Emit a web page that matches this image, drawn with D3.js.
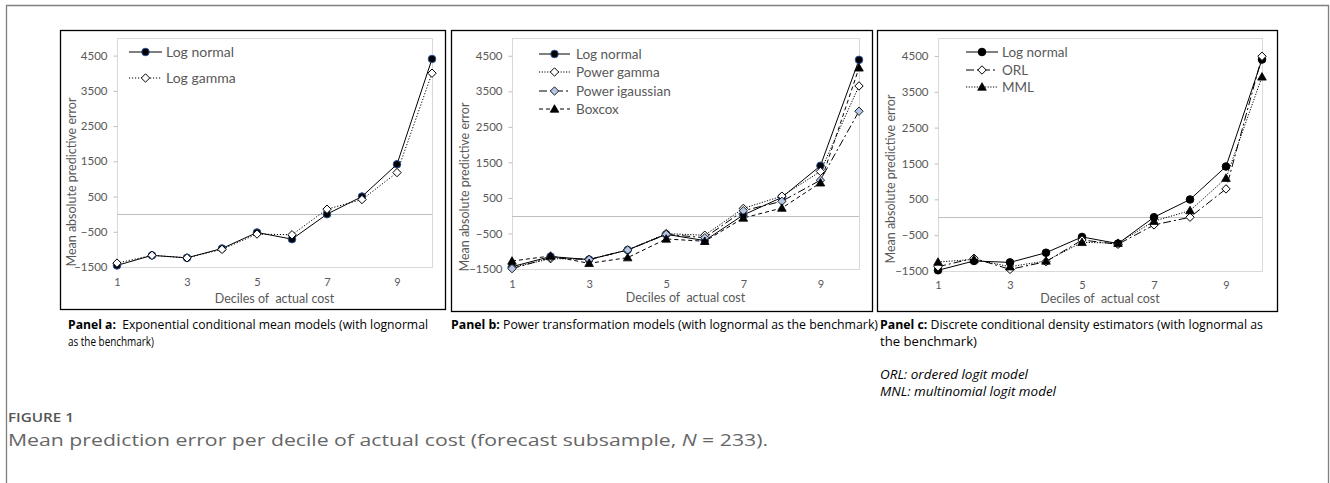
<!DOCTYPE html>
<html>
<head>
<meta charset="utf-8">
<script src="https://cdn.jsdelivr.net/npm/d3@7"></script>
<style>
  body { margin: 0; background: #fff; }
  svg text { font-family: Lato, "Open Sans", sans-serif; }
</style>
</head>
<body>
<script>

// deciles of actual cost
var deciles = [1, 2, 3, 4, 5, 6, 7, 8, 9, 10];
var xTickLabels = [1, 3, 5, 7, 9];
var yTicks = [-1500, -500, 500, 1500, 2500, 3500, 4500];

// panel a
var aLogNormal = [-1455, -1170, -1240, -975, -520, -710, 0, 500, 1415, 4405];
var aLogGamma  = [-1390, -1170, -1240, -1000, -565, -585, 140, 415, 1180, 4000];

// panel b
var bLogNormal     = [-1435, -1150, -1235, -965, -525, -700, 20, 515, 1405, 4385];
var bPowerGamma    = [-1460, -1210, -1225, -965, -505, -550, 205, 550, 1245, 3650];
var bPowerIgauss   = [-1490, -1180, -1235, -965, -525, -620, 140, 405, 1000, 2940];
var bBoxcox        = [-1275, -1135, -1340, -1180, -655, -720, -65, 215, 925, 4160];

// panel c
var cLogNormal = [-1480, -1220, -1260, -990, -550, -735, 0, 495, 1415, 4400];
var cORL       = [-1380, -1145, -1455, -1240, -635, -755, -215, 0, 790, 4490];
var cMML       = [-1250, -1175, -1380, -1220, -700, -725, -110, 185, 1090, 3915];

var width = 1330, height = 483;

var svg = d3.select("body")
    .append("svg")
    .attr("width", width)
    .attr("height", height);

// outer frame (open at the bottom)
svg.append("path")
    .attr("d", "M6.5,483 L6.5,5.5 L1328.5,5.5 L1328.5,483")
    .attr("fill", "none")
    .attr("stroke", "#7f7f7f")
    .attr("stroke-width", 1.3);

var panels = [
  {
    box: [60, 30, 445, 309], plot: [117, 38, 432, 267],
    yTitle: [72, 182], xTitleY: 299, tickY: 282,
    legend: {x0: 129, x1: 162, tx: 166, ys: [52, 78], size: 14},
    series: [
      {name: "Log normal", values: aLogNormal, dash: null, marker: "circle", fill: "#000", stroke: "#2f5597"},
      {name: "Log gamma", values: aLogGamma, dash: "1.2,1.8", marker: "diamond", fill: "#fff", stroke: "#000"}
    ]
  },
  {
    box: [451, 30, 872, 311], plot: [512, 38, 859, 269],
    yTitle: [465, 187], xTitleY: 298, tickY: 284,
    legend: {x0: 539, x1: 570, tx: 576, ys: [54, 72, 91, 109], size: 13.5},
    series: [
      {name: "Log normal", values: bLogNormal, dash: null, marker: "circle", fill: "#000", stroke: "#2f5597"},
      {name: "Power gamma", values: bPowerGamma, dash: "1.2,1.5", marker: "diamond", fill: "#fff", stroke: "#000"},
      {name: "Power igaussian", values: bPowerIgauss, dash: "8,3,2,3", marker: "diamond", fill: "#b4c7e7", stroke: "#222"},
      {name: "Boxcox", values: bBoxcox, dash: "4,3", marker: "triangle", fill: "#000", stroke: "#000"}
    ]
  },
  {
    box: [877, 30, 1277, 311], plot: [938, 38, 1262, 271],
    yTitle: [891, 179], xTitleY: 299, tickY: 285,
    legend: {x0: 966, x1: 998, tx: 1002, ys: [52, 70, 87], size: 13.5},
    series: [
      {name: "Log normal", values: cLogNormal, dash: null, marker: "circle", fill: "#000", stroke: "#000"},
      {name: "ORL", values: cORL, dash: "8,3,2,3", marker: "diamond", fill: "#fff", stroke: "#000"},
      {name: "MML", values: cMML, dash: "1.2,1.5", marker: "triangle", fill: "#000", stroke: "#000"}
    ]
  }
];

function drawMarker(g, type, x, y, fill, stroke) {
  if (type == "circle") {
    g.append("circle").attr("cx", x).attr("cy", y).attr("r", 3.8)
      .attr("fill", fill).attr("stroke", stroke).attr("stroke-width", 1);
  } else if (type == "diamond") {
    var s = 4.2;
    g.append("path")
      .attr("d", "M" + x + "," + (y - s) + " L" + (x + s) + "," + y + " L" + x + "," + (y + s) + " L" + (x - s) + "," + y + " Z")
      .attr("fill", fill).attr("stroke", stroke).attr("stroke-width", 1);
  } else {
    var t = 4.3;
    g.append("path")
      .attr("d", "M" + x + "," + (y - t) + " L" + (x + t) + "," + (y + t * 0.75) + " L" + (x - t) + "," + (y + t * 0.75) + " Z")
      .attr("fill", fill).attr("stroke", stroke).attr("stroke-width", 0.8);
  }
}

panels.forEach(function(p) {
  var g = svg.append("g");

  // black chart box
  g.append("rect")
    .attr("x", p.box[0] + 0.5).attr("y", p.box[1] + 0.5)
    .attr("width", p.box[2] - p.box[0]).attr("height", p.box[3] - p.box[1])
    .attr("fill", "#fff").attr("stroke", "#000").attr("stroke-width", 1.3);

  var x = d3.scaleLinear().domain([1, 10]).range([p.plot[0], p.plot[2]]);
  var y = d3.scaleLinear().domain([-1500, 5000]).range([p.plot[3], p.plot[1]]);

  // plot area border
  g.append("rect")
    .attr("x", p.plot[0] + 0.5).attr("y", p.plot[1] + 0.5)
    .attr("width", p.plot[2] - p.plot[0]).attr("height", p.plot[3] - p.plot[1])
    .attr("fill", "none").attr("stroke", "#d9d9d9");

  // zero line
  g.append("line")
    .attr("x1", p.plot[0]).attr("x2", p.plot[2])
    .attr("y1", Math.round(y(0)) + 0.5).attr("y2", Math.round(y(0)) + 0.5)
    .attr("stroke", "#bfbfbf").attr("stroke-width", 1);

  // y axis
  var yAxis = g.append("g")
    .attr("transform", "translate(" + (p.plot[0] + 0.5) + ",0)")
    .call(d3.axisLeft(y).tickValues(yTicks).tickSize(4).tickPadding(6).tickFormat(d3.format("d")));
  yAxis.select(".domain").remove();
  yAxis.selectAll("line").attr("stroke", "#bfbfbf");
  yAxis.selectAll("text").attr("fill", "#595959").attr("font-size", "11.5px");

  // x axis labels
  var xAxis = g.append("g")
    .attr("transform", "translate(0," + (p.tickY - 6) + ")")
    .call(d3.axisBottom(x).tickValues(xTickLabels).tickSize(0).tickPadding(0));
  xAxis.select(".domain").remove();
  xAxis.selectAll("text").attr("fill", "#595959").attr("font-size", "11px").attr("dy", "0.35em").attr("y", 6);

  // axis titles
  g.append("text")
    .attr("transform", "translate(" + p.yTitle[0] + "," + p.yTitle[1] + ") rotate(-90)")
    .attr("text-anchor", "middle").attr("dy", "0.35em")
    .attr("fill", "#595959").attr("font-size", "12.5px")
    .text("Mean absolute predictive error");

  g.append("text")
    .attr("x", (p.plot[0] + p.plot[2]) / 2).attr("y", p.xTitleY)
    .attr("text-anchor", "middle").attr("dy", "0.32em")
    .attr("fill", "#595959").attr("font-size", "12.5px")
    .attr("xml:space", "preserve")
    .text("Deciles of  actual cost");

  var line = d3.line()
    .x(function(d, i) { return x(deciles[i]); })
    .y(function(d) { return y(d); });

  p.series.forEach(function(s) {
    g.append("path")
      .datum(s.values)
      .attr("d", line)
      .attr("fill", "none").attr("stroke", "#000").attr("stroke-width", 1)
      .attr("stroke-dasharray", s.dash);
  });

  p.series.forEach(function(s) {
    s.values.forEach(function(v, i) {
      drawMarker(g, s.marker, x(deciles[i]), y(v), s.fill, s.stroke);
    });
  });

  // legend
  p.series.forEach(function(s, i) {
    var ly = p.legend.ys[i];
    g.append("line")
      .attr("x1", p.legend.x0).attr("x2", p.legend.x1)
      .attr("y1", ly).attr("y2", ly)
      .attr("stroke", "#000").attr("stroke-width", 1)
      .attr("stroke-dasharray", s.dash);
    drawMarker(g, s.marker, (p.legend.x0 + p.legend.x1) / 2, ly, s.fill, s.stroke);
    g.append("text")
      .attr("x", p.legend.tx).attr("y", ly)
      .attr("dy", "0.35em")
      .attr("fill", "#595959").attr("font-size", p.legend.size + "px")
      .text(s.name);
  });
});

// panel captions
function caption(xp, yp, bold, rest, len, italic, family) {
  var t = svg.append("text")
    .attr("x", xp).attr("y", yp)
    .attr("dy", "0.35em")
    .attr("font-size", "12px")
    .attr("fill", "#000")
    .attr("xml:space", "preserve")
    .style("font-family", family || "'Liberation Sans Narrow', 'Open Sans', sans-serif");
  if (len) t.attr("textLength", len).attr("lengthAdjust", "spacingAndGlyphs");
  if (bold) t.append("tspan").attr("font-weight", "bold").text(bold);
  var r = t.append("tspan").text(rest);
  if (italic) r.attr("font-style", "italic");
  return t;
}

var regular = "'Open Sans', sans-serif";
caption(68, 325, "Panel a:", "  Exponential conditional mean models (with lognormal", 360);
caption(68, 342, null, "as the benchmark)", 86);
caption(451, 325, "Panel b:", " Power transformation models (with lognormal as the benchmark)", 427);
caption(880, 325, "Panel c:", " Discrete conditional density estimators (with lognormal as", 383, false, regular);
caption(880, 342, null, "the benchmark)", 97, false, regular);
caption(880, 375, null, "ORL: ordered logit model", 148, true, regular);
caption(880, 392, null, "MNL: multinomial logit model", 176, true, regular);

// figure caption
svg.append("text")
  .attr("x", 8).attr("y", 418)
  .attr("dy", "0.35em")
  .attr("font-size", "12px").attr("font-weight", "600")
  .attr("fill", "#555")
  .attr("textLength", 66).attr("lengthAdjust", "spacingAndGlyphs")
  .style("font-family", regular)
  .text("FIGURE 1");

var fc = svg.append("text")
  .attr("x", 8).attr("y", 440)
  .attr("dy", "0.35em")
  .attr("font-size", "16px")
  .attr("fill", "#666")
  .attr("textLength", 760).attr("lengthAdjust", "spacingAndGlyphs")
  .style("font-family", regular);
fc.append("tspan").text("Mean prediction error per decile of actual cost (forecast subsample, ");
fc.append("tspan").attr("font-style", "italic").text("N");
fc.append("tspan").text(" = 233).");

</script>
</body>
</html>
